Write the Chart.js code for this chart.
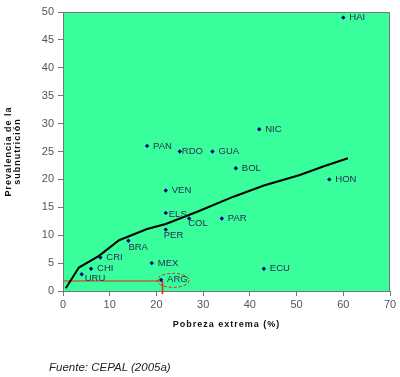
<!DOCTYPE html>
<html>
<head>
<meta charset="utf-8">
<script src="https://cdn.jsdelivr.net/npm/chart.js@4.4.1/dist/chart.umd.min.js"></script>
<style>
  body { margin: 0; background: #fff; }
  #wrap { position: relative; width: 400px; height: 377px; }
  #fuente { position: absolute; left: 49px; top: 361px; font: italic 11.5px "Liberation Sans", Arial, sans-serif; color: #222; }
</style>
</head>
<body>
<div id="wrap">
  <canvas id="grafico" width="400" height="377"></canvas>
  <div id="fuente">Fuente: CEPAL (2005a)</div>
</div>
<script>
// Datos
const paises = ['HAI', 'NIC', 'GUA', 'PAN', 'RDO', 'BOL', 'HON', 'PAR', 'ECU', 'VEN', 'ELS', 'COL', 'PER', 'BRA', 'CRI', 'MEX', 'CHI', 'URU', 'ARG'];
const pobreza = [60, 42, 32, 18, 25, 37, 57, 34, 43, 22, 22, 27, 22, 14, 8, 19, 6, 4, 21];
const subnutricion = [49, 29, 25, 26, 25, 22, 20, 13, 4, 18, 14, 13, 11, 9, 6, 5, 4, 3, 2];

// Curva de tendencia
const tendenciaX = [0.6, 3.4, 7.7, 12, 18, 22, 29, 36.5, 43, 50.7, 56, 61];
const tendenciaY = [0.5, 4.2, 6.3, 9.1, 11.1, 12, 14.3, 16.9, 18.9, 20.8, 22.4, 23.8];

// Marca roja de Argentina
const argX = 21.3;
const argY = 1.8;

// Ejes
const ejeX = { min: 0, max: 70, paso: 10, titulo: 'Pobreza extrema (%)' };
const ejeY = { min: 0, max: 50, paso: 5, titulo: ['Prevalencia de la', 'subnutrición'] };

// desplazamiento de etiquetas (px)
const desplazamientos = {
  RDO: [2, 0], ELS: [3, 1], COL: [-1, 5], PER: [-2, 6], BRA: [0, 7], URU: [3, 4]
};

const fuente = '"Liberation Sans", Arial, sans-serif';

const fondoYEtiquetas = {
  id: 'fondoYEtiquetas',
  beforeDraw(chart) {
    const { ctx, chartArea: a } = chart;
    ctx.save();
    ctx.fillStyle = 'rgb(56,255,155)';
    ctx.fillRect(a.left, a.top, a.right - a.left, a.bottom - a.top);
    ctx.restore();
  },
  afterDatasetsDraw(chart) {
    const { ctx, chartArea: a } = chart;
    const sx = chart.scales.x, sy = chart.scales.y;
    ctx.save();
    // borde superior y derecho
    ctx.strokeStyle = '#777';
    ctx.lineWidth = 1;
    ctx.beginPath();
    ctx.moveTo(a.left, a.top + 0.5);
    ctx.lineTo(a.right - 0.5, a.top + 0.5);
    ctx.lineTo(a.right - 0.5, a.bottom);
    ctx.stroke();

    // etiquetas de países
    ctx.font = '9.5px ' + fuente;
    ctx.fillStyle = '#2a2a55';
    ctx.textBaseline = 'middle';
    ctx.textAlign = 'left';
    paises.forEach((p, i) => {
      const d = desplazamientos[p] || [6, 0];
      ctx.fillText(p, sx.getPixelForValue(pobreza[i]) + d[0], sy.getPixelForValue(subnutricion[i]) + d[1]);
    });

    // elipse roja alrededor de ARG
    const iArg = paises.indexOf('ARG');
    const ex = sx.getPixelForValue(pobreza[iArg]) + 12;
    const ey = sy.getPixelForValue(subnutricion[iArg]) + 0.5;
    ctx.strokeStyle = '#e02020';
    ctx.lineWidth = 1;
    ctx.setLineDash([3, 2]);
    ctx.beginPath();
    ctx.ellipse(ex, ey, 16, 7, 0, 0, Math.PI * 2);
    ctx.stroke();
    ctx.setLineDash([]);

    // títulos de ejes
    ctx.fillStyle = '#111';
    ctx.font = 'bold 9px ' + fuente;
    ctx.letterSpacing = '1px';
    ctx.textAlign = 'center';
    ctx.fillText(ejeX.titulo, (a.left + a.right) / 2, 325);
    ctx.translate(0, (a.top + a.bottom) / 2);
    ctx.rotate(-Math.PI / 2);
    ctx.fillText(ejeY.titulo[0], 0, 9);
    ctx.fillText(ejeY.titulo[1], 0, 18);
    ctx.restore();
  }
};

new Chart(document.getElementById('grafico'), {
  type: 'scatter',
  data: {
    datasets: [
      {
        label: 'Tendencia',
        data: tendenciaX.map((x, i) => ({ x: x, y: tendenciaY[i] })),
        showLine: true,
        borderColor: '#000',
        borderWidth: 2,
        pointRadius: 0,
        order: 2
      },
      {
        label: 'ARG horizontal',
        data: [{ x: 0, y: argY }, { x: argX, y: argY }],
        showLine: true,
        borderColor: '#ff1a1a',
        borderWidth: 1,
        pointRadius: 0,
        order: 3
      },
      {
        label: 'ARG vertical',
        data: [{ x: argX, y: argY }, { x: argX, y: -0.6 }],
        showLine: true,
        borderColor: '#ff1a1a',
        borderWidth: 1.5,
        pointRadius: 0,
        clip: false,
        order: 3
      },
      {
        label: 'Países',
        data: pobreza.map((x, i) => ({ x: x, y: subnutricion[i] })),
        pointStyle: 'rectRot',
        pointRadius: 2.2,
        backgroundColor: '#000080',
        borderColor: '#000080',
        borderWidth: 0,
        order: 1
      }
    ]
  },
  options: {
    responsive: false,
    animation: false,
    layout: { padding: { top: 12, right: 10, left: 0, bottom: 41 } },
    plugins: { legend: { display: false }, tooltip: { enabled: false } },
    scales: {
      x: {
        min: ejeX.min,
        max: ejeX.max,
        afterFit(s) { s.height = 45; },
        ticks: { stepSize: ejeX.paso, color: '#555', font: { family: fuente, size: 11 }, padding: 2 },
        grid: { drawOnChartArea: false, tickLength: 5, color: '#777' },
        border: { color: '#777' }
      },
      y: {
        min: ejeY.min,
        max: ejeY.max,
        afterFit(s) { s.width = 63; },
        ticks: { stepSize: ejeY.paso, color: '#555', font: { family: fuente, size: 11 }, padding: 4 },
        grid: { drawOnChartArea: false, tickLength: 5, color: '#777' },
        border: { color: '#777' }
      }
    }
  },
  plugins: [fondoYEtiquetas]
});
</script>
</body>
</html>
